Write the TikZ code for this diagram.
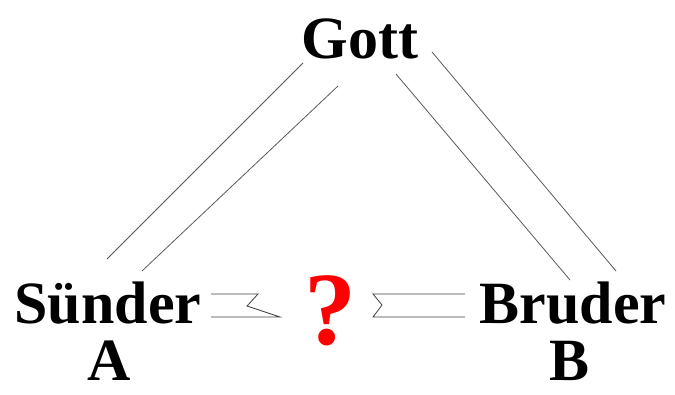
\documentclass[tikz,border=0pt]{standalone}
\usepackage{fontspec}
\setmainfont{Liberation Serif}
\usetikzlibrary{calc}

\begin{document}
\begin{tikzpicture}[x=1pt,y=-1pt,
    mot/.style={inner sep=0pt,anchor=base,font=\bfseries\fontsize{60}{60}\selectfont},
    trait/.style={draw=black!65,line width=0.8pt},
    pont/.style={draw=black!75,line width=0.8pt,line join=miter}]
    % Cadre
    \useasboundingbox (0,0) rectangle (675,394);
    % Les mots
    \node[mot] (gott) at (360,58) {Gott};
    \node[mot] (suender) at (108,323) {Sünder};
    \node[mot] (bruder) at (573,323) {Bruder};
    \node[mot] (A) at (109,380) {A};
    \node[mot] (B) at (570,380) {B};
    \node[mot,text=red,font=\bfseries\fontsize{104}{104}\selectfont] (q) at (330,344) {?};
    % Extrémités des traits
    \coordinate (g1) at (303,63);
    \coordinate (g2) at (338,86);
    \coordinate (g3) at (396,74);
    \coordinate (g4) at (432,52);
    \coordinate (s1) at (107,259);
    \coordinate (s2) at (142,271);
    \coordinate (b1) at (570,280);
    \coordinate (b2) at (616,271);
    % Gott -- Sünder
    \draw[trait] (g1) -- (s1);
    \draw[trait] (g2) -- (s2);
    % Gott -- Bruder
    \draw[trait] (g3) -- (b1);
    \draw[trait] (g4) -- (b2);
    % Pont cassé à gauche
    \coordinate (l1) at (211,294);
    \coordinate (l2) at (211,317);
    \draw[pont] (l1) -- (258,294) -- (247,306) -- (280,317) -- (l2);
    % Pont cassé à droite
    \coordinate (r1) at (465,294);
    \coordinate (r2) at (465,317);
    \draw[pont] (r1) -- (373,294) -- (382,305) -- (373,317) -- (r2);
\end{tikzpicture}
\end{document}
